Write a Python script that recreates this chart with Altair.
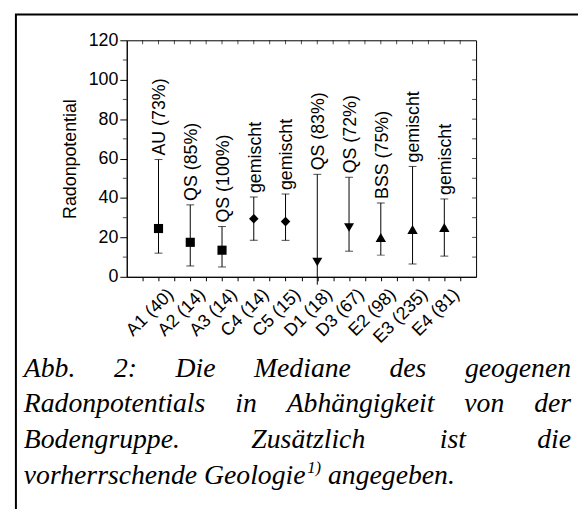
import altair as alt
import pandas as pd

# ---- data ----
categories = ["A1 (40)", "A2 (14)", "A3 (14)", "C4 (14)", "C5 (15)",
              "D1 (18)", "D3 (67)", "E2 (98)", "E3 (235)", "E4 (81)"]
medians = [24.5, 17.5, 13.5, 29.5, 28.0, 7.5, 25.0, 20.0, 24.0, 25.0]
upper = [59.5, 36.5, 25.5, 40.5, 42.0, 52.0, 50.5, 37.5, 56.0, 39.5]
lower = [12.0, 5.5, 5.0, 18.5, 18.5, -4.0, 13.0, 11.0, 6.5, 10.5]
geology = ["AU (73%)", "QS (85%)", "QS (100%)", "gemischt", "gemischt",
           "QS (83%)", "QS (72%)", "BSS (75%)", "gemischt", "gemischt"]
groups = ["A", "A", "A", "C", "C", "D", "D", "E", "E", "E"]
group_names = ["A", "C", "D", "E"]
group_shapes = ["square", "diamond", "triangle-down", "triangle-up"]
group_sizes = [85, 110, 120, 120]
y_ticks = [0, 20, 40, 60, 80, 100, 120]
y_minor = [10, 30, 50, 70, 90, 110]
y_all = [10, 20, 30, 40, 50, 60, 70, 80, 90, 100, 110]
x_ticks = [0.5 * i for i in range(1, 22)]

caption_lines = [
    ["Abb.", "2:", "Die", "Mediane", "des", "geogenen"],
    ["Radonpotentials", "in", "Abhängigkeit", "von", "der"],
    ["Bodengruppe.", "Zusätzlich", "ist", "die"],
]
caption_last = ["vorherrschende Geologie", "1)", "angegeben."]

df = pd.DataFrame({
    "pos": list(range(1, len(categories) + 1)),
    "cat": categories,
    "median": medians,
    "upper": upper,
    "lower": lower,
    "geo": geology,
    "group": groups,
})

W, H = 353, 239
XMAX, YMAX = 11, 120
FONT = "Liberation Sans"
FS = 18

# ---- caption layout (justified, Times italic metrics) ----
TW = {" ": 250, "A": 611, "B": 611, "D": 722, "G": 722, "M": 833, "R": 611, "Z": 556,
      "a": 500, "b": 500, "c": 444, "d": 500, "e": 444, "f": 278, "g": 500, "h": 500,
      "i": 278, "k": 444, "l": 278, "m": 722, "n": 500, "o": 500, "p": 500, "r": 389,
      "s": 389, "t": 278, "u": 500, "v": 444, "ä": 500, ".": 250, ":": 333, "1": 500,
      "2": 500, ")": 333}


def tw(s, fs):
    return sum(TW.get(c, 500) for c in s) * fs / 1000.0


def to_x(px):
    return px * XMAX / W


def to_y(py):
    return YMAX * (1 - py / H)


CFS = 28
left_px, right_px = 24 - 128, 577 - 128
base0, step = 378 - 38, 36
rows_l, rows_r = [], []
for li, words in enumerate(caption_lines):
    widths = [tw(w, CFS) for w in words]
    gap = (right_px - left_px - sum(widths)) / (len(words) - 1)
    x = left_px
    py = base0 + li * step
    for i, (w, wd) in enumerate(zip(words, widths)):
        if i == len(words) - 1:
            rows_r.append({"word": w, "cx": to_x(right_px), "cy": to_y(py)})
        else:
            rows_l.append({"word": w, "cx": to_x(x), "cy": to_y(py)})
        x += wd + gap
ly = base0 + 3 * step
w0 = tw(caption_last[0], CFS) + 1
w1 = tw(caption_last[1], CFS * 0.6)
sp = tw(" ", CFS)
rows_l.append({"word": caption_last[0], "cx": to_x(left_px), "cy": to_y(ly)})
rows_l.append({"word": caption_last[2], "cx": to_x(left_px + w0 + w1 + sp), "cy": to_y(ly)})
cap_l = pd.DataFrame(rows_l)
cap_r = pd.DataFrame(rows_r)
cap_sup = pd.DataFrame({"word": [caption_last[1]], "cx": [to_x(left_px + w0)], "cy": [to_y(ly - 11)]})

xscale = alt.Scale(domain=[0, XMAX], nice=False, zero=False)
yscale = alt.Scale(domain=[0, YMAX], nice=False, zero=False)

label_js = "[" + ",".join("'" + c + "'" for c in categories) + "]"

xaxis = alt.Axis(
    values=x_ticks, title=None, grid=False,
    labelExpr=f"datum.value % 1 == 0 ? {label_js}[datum.value - 1] : ''",
    labelAngle=315, labelAlign="right", labelBaseline="middle",
    labelOverlap=False, labelFlush=False, labelPadding=11, labelOffset=12,
    labelFont=FONT, labelFontSize=FS, labelColor="black",
    tickSize=4, tickColor="black", domainColor="black")
yaxis = alt.Axis(
    values=y_ticks, title="Radonpotential", grid=False, labelOverlap=False,
    titleFont=FONT, titleFontSize=FS, titleFontWeight="normal", titleColor="black",
    titlePadding=9, labelFont=FONT, labelFontSize=FS, labelColor="black",
    labelPadding=2, tickSize=7, tickColor="black", domainColor="black")


def X(f):
    return alt.X(f, type="quantitative", scale=xscale, axis=xaxis)


def Y(f):
    return alt.Y(f, type="quantitative", scale=yscale, axis=yaxis)


base = alt.Chart(df)

rules = base.mark_rule(color="black", strokeWidth=1).encode(
    x=X("pos"), y=Y("lower"), y2="upper")

cap_hi = base.mark_tick(orient="horizontal", size=8, thickness=1, color="black").encode(
    x=X("pos"), y=Y("upper"))
cap_lo = base.transform_filter("datum.lower > 0").mark_tick(
    orient="horizontal", size=8, thickness=1, color="black").encode(
    x=X("pos"), y=Y("lower"))

points = base.mark_point(filled=True, opacity=1, color="black").encode(
    x=X("pos"), y=Y("median"),
    shape=alt.Shape("group:N", scale=alt.Scale(domain=group_names, range=group_shapes), legend=None),
    size=alt.Size("group:N", scale=alt.Scale(domain=group_names, range=group_sizes), legend=None),
)

labels = base.mark_text(angle=270, align="left", baseline="middle", dx=4, dy=2,
                        font=FONT, fontSize=FS, color="black").encode(
    x=X("pos"), y=Y("upper"), text="geo:N")

top_ticks = alt.Chart(pd.DataFrame({"t": x_ticks, "v": [YMAX] * len(x_ticks)})).mark_tick(
    orient="vertical", size=4, thickness=1, yOffset=2, color="black").encode(
    x=X("t"), y=Y("v"))
right_ticks = alt.Chart(pd.DataFrame({"t": y_all, "v": [XMAX] * len(y_all)})).mark_tick(
    orient="horizontal", size=4, thickness=1, xOffset=-2, color="black").encode(
    y=Y("t"), x=X("v"))
left_minor = alt.Chart(pd.DataFrame({"t": y_minor, "v": [0] * len(y_minor)})).mark_tick(
    orient="horizontal", size=4, thickness=1, xOffset=-2, color="black").encode(
    y=Y("t"), x=X("v"))

frame = alt.Chart(pd.DataFrame({"a": [0]})).mark_rect(
    filled=False, stroke="black", strokeWidth=2).encode(
    x=alt.value(16 - 128), x2=alt.value(900), y=alt.value(12 - 38), y2=alt.value(900))

cap_text = dict(baseline="alphabetic", font="Liberation Serif", fontStyle="italic", color="black")
caption_l = alt.Chart(cap_l).mark_text(fontSize=CFS, align="left", **cap_text).encode(
    x=X("cx"), y=Y("cy"), text="word:N")
caption_r = alt.Chart(cap_r).mark_text(fontSize=CFS, align="right", **cap_text).encode(
    x=X("cx"), y=Y("cy"), text="word:N")
caption_sup = alt.Chart(cap_sup).mark_text(fontSize=CFS * 0.6, align="left", **cap_text).encode(
    x=X("cx"), y=Y("cy"), text="word:N")

chart = alt.layer(
    frame, rules, cap_hi, cap_lo, points, labels, top_ticks, right_ticks, left_minor,
    caption_l, caption_r, caption_sup
).properties(
    width=W, height=H,
    autosize=alt.AutoSizeParams(type="none"),
    padding={"left": 120, "top": 30, "right": 103, "bottom": 232},
).configure_view(stroke="black", strokeWidth=1)

chart.save("out.html", embed_options={"renderer": "svg", "actions": False})
